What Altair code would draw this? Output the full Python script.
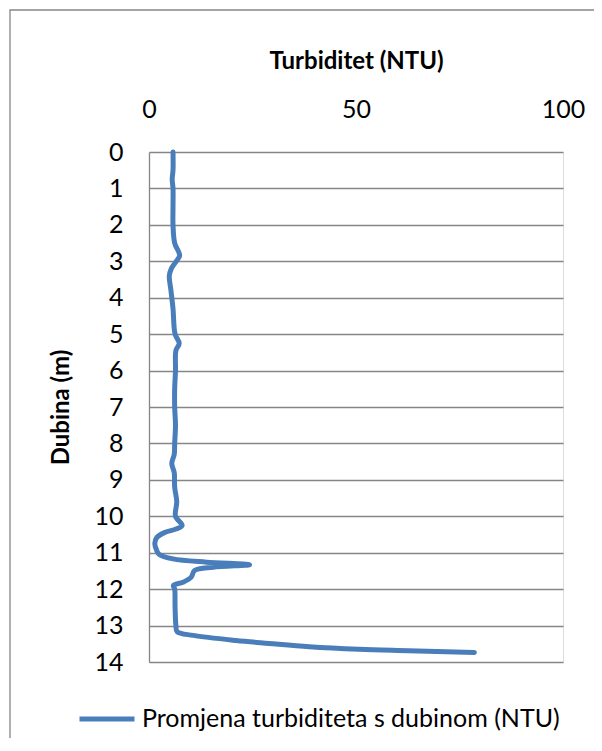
import altair as alt
import pandas as pd

depth = [0.0, 0.5, 0.75, 1.0, 1.5, 2.0, 2.5, 2.84, 3.0, 3.2, 3.4, 3.8, 4.3, 5.0, 5.25, 5.45,
         6.0, 6.5, 7.0, 7.5, 8.0, 8.3, 8.55, 8.8, 9.2, 9.6, 10.0, 10.25, 10.35, 10.44, 10.58,
         10.75, 10.95, 11.05, 11.17, 11.26, 11.33, 11.40, 11.49, 11.67, 11.81, 11.90, 12.0,
         12.5, 13.0, 13.17, 13.27, 13.41, 13.49, 13.58, 13.65, 13.69, 13.74]
turbidity = [5.8, 5.8, 5.6, 5.8, 5.8, 5.8, 6.2, 7.4, 6.6, 5.4, 4.9, 5.3, 5.8, 6.3, 7.3, 6.5,
             6.4, 6.2, 6.2, 6.4, 6.2, 6.1, 5.5, 6.1, 6.2, 6.7, 6.4, 8.0, 6.5, 3.9, 1.9,
             1.4, 1.9, 2.5, 5.8, 13.9, 24.3, 15.5, 11.0, 10.2, 8.2, 5.9, 6.2,
             6.3, 6.5, 6.8, 10.7, 21.0, 29.0, 38.7, 50.7, 62.7, 78.6]
series_name = "Promjena turbiditeta s dubinom (NTU)"
x_ticks = [0, 50, 100]
y_ticks = list(range(0, 15))

df = pd.DataFrame({
    "depth": depth,
    "turb": turbidity,
    "order": list(range(len(depth))),
    "series": [series_name] * len(depth),
})

W, H = 414, 510
FONT = "Lato"
GRAY = "#868686"
LBL = 25
TTL = 24

frame = alt.Chart(pd.DataFrame({"a": [0]})).mark_rect(
    fill=None, stroke=GRAY, strokeWidth=1.3, clip=False
).encode(
    x=alt.value(-139), x2=alt.value(460), y=alt.value(-142), y2=alt.value(700)
)

line = alt.Chart(df).mark_line(
    strokeWidth=5, interpolate="catmull-rom", strokeCap="round", strokeJoin="round"
).encode(
    x=alt.X("turb:Q",
            scale=alt.Scale(domain=[0, 100], nice=False, zero=False),
            axis=alt.Axis(orient="top", values=x_ticks, grid=False, domain=False,
                          ticks=False, tickSize=0, labelPadding=35, labelFlush=False,
                          labelBaseline="alphabetic", labelFontSize=LBL, labelFont=FONT,
                          labelColor="#000000",
                          title="Turbiditet (NTU)", titleFont=FONT, titleFontSize=TTL,
                          titleFontWeight="bold", titleColor="#000000",
                          titleX=W / 2, titleY=-84, titleBaseline="alphabetic",
                          titleAlign="center")),
    y=alt.Y("depth:Q",
            scale=alt.Scale(domain=[0, 14], reverse=True, nice=False, zero=False),
            axis=alt.Axis(orient="left", values=y_ticks, grid=True, gridColor=GRAY,
                          gridWidth=1.3, gridOpacity=1, domain=True, domainColor=GRAY,
                          domainWidth=1.3, ticks=False, tickSize=0, labelPadding=26,
                          labelFlush=False,
                          labelFontSize=LBL, labelFont=FONT, labelColor="#000000",
                          labelBaseline="middle",
                          title="Dubina (m)", titleFont=FONT, titleFontSize=TTL,
                          titleFontWeight="bold", titleColor="#000000",
                          titleAngle=270, titleX=-88, titleY=H / 2,
                          titleBaseline="middle", titleAlign="center")),
    order="order:Q",
    color=alt.Color("series:N",
                    scale=alt.Scale(range=["#4A7EBB"]),
                    legend=alt.Legend(orient="none", legendX=-72, legendY=537,
                                      title=None, symbolType="stroke",
                                      symbolSize=3025, symbolStrokeWidth=5,
                                      labelFontSize=LBL, labelFont=FONT, labelLimit=0,
                                      labelColor="#000000", labelOffset=5)),
)

chart = alt.layer(frame, line).properties(
    width=W, height=H,
    autosize=alt.AutoSizeParams(type="none"),
    padding={"left": 141, "top": 144, "right": 31, "bottom": 76},
).configure_view(stroke=None).configure(background="white")

chart.save("out.html", embed_options={"renderer": "svg", "actions": False})
